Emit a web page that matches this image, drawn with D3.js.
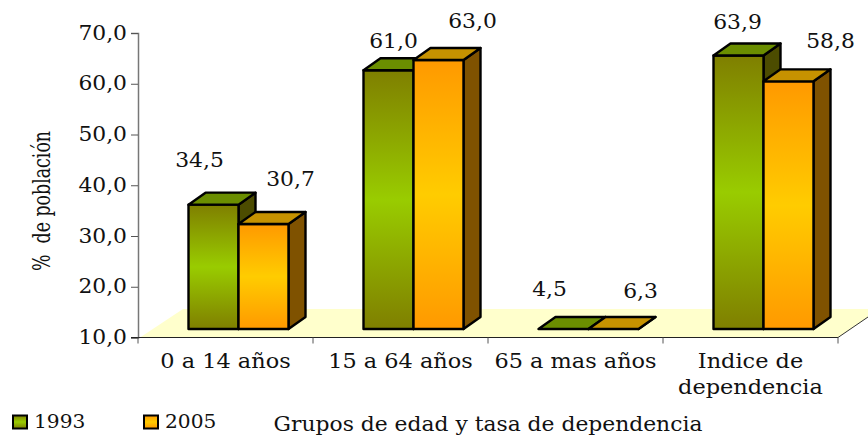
<!DOCTYPE html>
<html><head><meta charset="utf-8">
<script src="https://cdn.jsdelivr.net/npm/d3@7"></script>
<style>html,body{margin:0;padding:0;background:#fff}svg{display:block}text{font-family:"DejaVu Serif",serif;fill:#111}</style>
</head><body><svg id="c" width="868" height="436"></svg>
<script>
const categories = [["0 a 14 años"],["15 a 64 años"],["65 a mas años"],["Indice de","dependencia"]];
const seriesNames = ["1993","2005"];
const values1993 = [34.5,61.0,4.5,63.9];
const values2005 = [30.7,63.0,6.3,58.8];
const yTicks = [10,20,30,40,50,60,70];
const yTitle = "%  de población";
const xTitle = "Grupos de edad y tasa de dependencia";

const svg = d3.select("#c");
const FS=19.5, SX=1.12, SXC=1.15;
const fmt = v => v.toFixed(1).replace(".",",");
const place=(x,y,sx=SX)=>`translate(${x},${y}) scale(${sx},1)`;
const y = d3.scaleLinear().domain([10,70]).range([337.5,33]);
const x = d3.scaleBand().domain(d3.range(categories.length)).range([138,838]);
const xs = d3.scaleBand().domain(seriesNames).range([50.5,150.5]);
const DX=17, DY=12, LIFT=8.5;
const pal = {
 "1993":{edge:"#7f7f00",mid:"#99cc00",top:"#6b8e00",side:"#4c4c00"},
 "2005":{edge:"#ff9900",mid:"#ffcc00",top:"#c69200",side:"#7f5200"}};
const defs = svg.append("defs");
seriesNames.forEach(s=>{
  const g=defs.append("linearGradient").attr("id","g"+s).attr("x1",0).attr("x2",0).attr("y1",0).attr("y2",1);
  g.append("stop").attr("offset","0%").attr("stop-color",pal[s].edge);
  g.append("stop").attr("offset","50%").attr("stop-color",pal[s].mid);
  g.append("stop").attr("offset","100%").attr("stop-color",pal[s].edge);
});
// floor
svg.append("polygon").attr("fill","#ffffcc")
  .attr("points",[[140,y(10)],[183,309],[868,309],[868,317],[838,y(10)]].join(" "));
svg.append("line").attr("x1",838).attr("y1",y(10)).attr("x2",868).attr("y2",317).attr("stroke","#333").attr("stroke-width",1);
// axes
const ga=svg.append("g").attr("transform","translate(138,0)")
  .call(d3.axisLeft(y).tickValues(yTicks).tickSize(7).tickFormat(fmt));
ga.select(".domain").attr("stroke","#777").attr("stroke-width",1.5);
ga.selectAll(".tick line").attr("stroke","#555");
ga.selectAll(".tick text").attr("font-size",FS).attr("x",0).attr("fill","#111")
  .attr("transform",`translate(-11,0) scale(${SX},1)`).style("font-family",'"DejaVu Serif",serif');
const gx=svg.append("g").attr("transform",`translate(0,${y(10)})`);
gx.append("line").attr("x1",131).attr("x2",838).attr("stroke","#222").attr("stroke-width",1.2);
gx.selectAll("line.t").data(d3.range(categories.length+1)).join("line").attr("class","t")
  .attr("x1",i=>138+i*x.step()).attr("x2",i=>138+i*x.step()).attr("y2",6).attr("stroke","#555");
svg.append("g").selectAll("g").data(categories).join("g").each(function(lines,i){
  d3.select(this).selectAll("text").data(lines).join("text")
    .attr("text-anchor","middle").attr("font-size",FS)
    .attr("transform",(d,j)=>place(x(i)+x.bandwidth()/2,368+j*26,SXC)).text(d=>d);
});
// bars
const rows = seriesNames.flatMap((s,k)=>[values1993,values2005][k].map((v,i)=>({s,i,v})));
const barLeft=d=>x(d.i)+xs(d.s), bw=xs.bandwidth();
const base=y(10)-LIFT;
const barTop=d=>y(Math.max(d.v,10))-LIFT;
const bars=svg.append("g").selectAll("g").data(rows).join("g").attr("stroke","#000").attr("stroke-width",2.4).attr("stroke-linejoin","round");
bars.append("polygon").attr("fill",d=>pal[d.s].side).attr("points",d=>{const l=barLeft(d)+bw,t=barTop(d);return [[l,t],[l+DX,t-DY],[l+DX,base-DY],[l,base]].join(" ")});
bars.filter(d=>d.v>10).append("rect").attr("fill",d=>`url(#g${d.s})`)
  .attr("x",barLeft).attr("y",barTop).attr("width",bw).attr("height",d=>base-barTop(d));
bars.append("polygon").attr("fill",d=>pal[d.s].top).attr("points",d=>{const l=barLeft(d),t=barTop(d);return [[l,t],[l+DX,t-DY],[l+bw+DX,t-DY],[l+bw,t]].join(" ")});
// value labels were hand-placed in the original: per-series offsets from each bar's top centre
const labelOffsets={"1993":[[-14,-38],[5,-22],[-14,-33],[-1,-26]],"2005":[[27,-38],[34,-32],[27,-31],[42,-33]]};
svg.append("g").selectAll("text").data(rows).join("text")
  .attr("text-anchor","middle").attr("font-size",FS)
  .attr("transform",d=>{const o=labelOffsets[d.s][d.i];return place(barLeft(d)+bw/2+o[0],barTop(d)+o[1]);})
  .text(d=>fmt(d.v));
// titles
svg.append("text").attr("transform","translate(50,201) rotate(-90) scale(1,1.35)").attr("text-anchor","middle").attr("font-size",17.4).style("white-space","pre").text(yTitle);
svg.append("text").attr("transform",place(488,431)).attr("text-anchor","middle").attr("font-size",FS).text(xTitle);
// legend
const lx=d3.scalePoint().domain(seriesNames).range([13,144]);
const lg=svg.append("g").selectAll("g").data(seriesNames).join("g").attr("transform",s=>`translate(${lx(s)},415.5)`);
lg.append("rect").attr("width",14).attr("height",13).attr("fill",s=>`url(#g${s})`).attr("stroke","#000").attr("stroke-width",2);
lg.append("text").attr("transform",place(21,12.5)).attr("font-size",18).text(s=>s);
</script></body></html>
